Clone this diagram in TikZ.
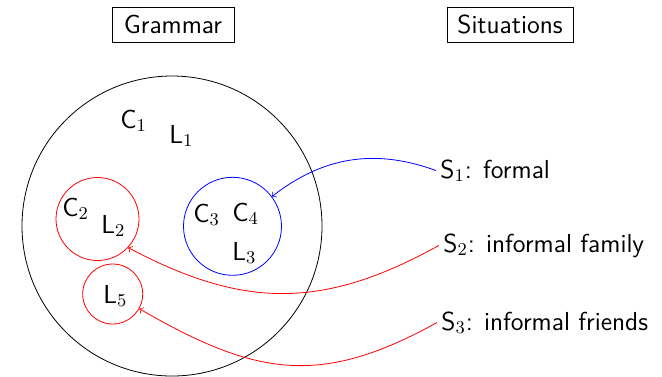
\documentclass[tikz,border=0pt]{standalone}
\begin{document}
\begin{tikzpicture}[x=0.5pt,y=-0.5pt,
  every node/.style={font=\sffamily\fontsize{13}{15}\selectfont},
  title/.style={draw,inner sep=0pt,minimum height=17.5pt},
  lbl/.style={anchor=base west,inner sep=0pt},
  ring/.style={circle,draw,inner sep=0pt},
  link/.style={->}]
\useasboundingbox (0,0) rectangle (662,376);
\node[title,minimum width=61pt] (gram) at (173,24.5) {Grammar};
\node[title,minimum width=63pt] (sit) at (510,24.5) {Situations};
\node[ring,minimum size=150pt] (big) at (172,226) {};
\node[ring,red,minimum size=41.5pt] (r1) at (97.5,219) {};
\node[ring,blue,minimum size=49pt] (b1) at (232.5,226.3) {};
\node[ring,red,minimum size=30pt] (r2) at (112.7,294) {};
\node[lbl] (c1) at (120,128) {C$_1$};
\node[lbl] (l1) at (169,143) {L$_1$};
\node[lbl] (c2) at (62,216) {C$_2$};
\node[lbl] (l2) at (101,233) {L$_2$};
\node[lbl] (c3) at (193,222) {C$_3$};
\node[lbl] (c4) at (232,221) {C$_4$};
\node[lbl] (l3) at (232,260) {L$_3$};
\node[lbl] (l5) at (103,303) {L$_5$};
\node[lbl] (s1) at (440,178) {S$_1$: formal};
\node[lbl] (s2) at (443,252) {S$_2$: informal family};
\node[lbl] (s3) at (441,330) {S$_3$: informal friends};
\draw[link,blue] ([xshift=-2pt]s1.west) to[out=160,in=38] (b1.37);
\draw[link,red] ([xshift=-2pt]s2.west) to[out=209,in=-28,looseness=1.08] (r1.-43);
\draw[link,red] ([xshift=-2pt]s3.west) to[out=209,in=-30,looseness=1.15] (r2.-29);
\end{tikzpicture}
\end{document}
